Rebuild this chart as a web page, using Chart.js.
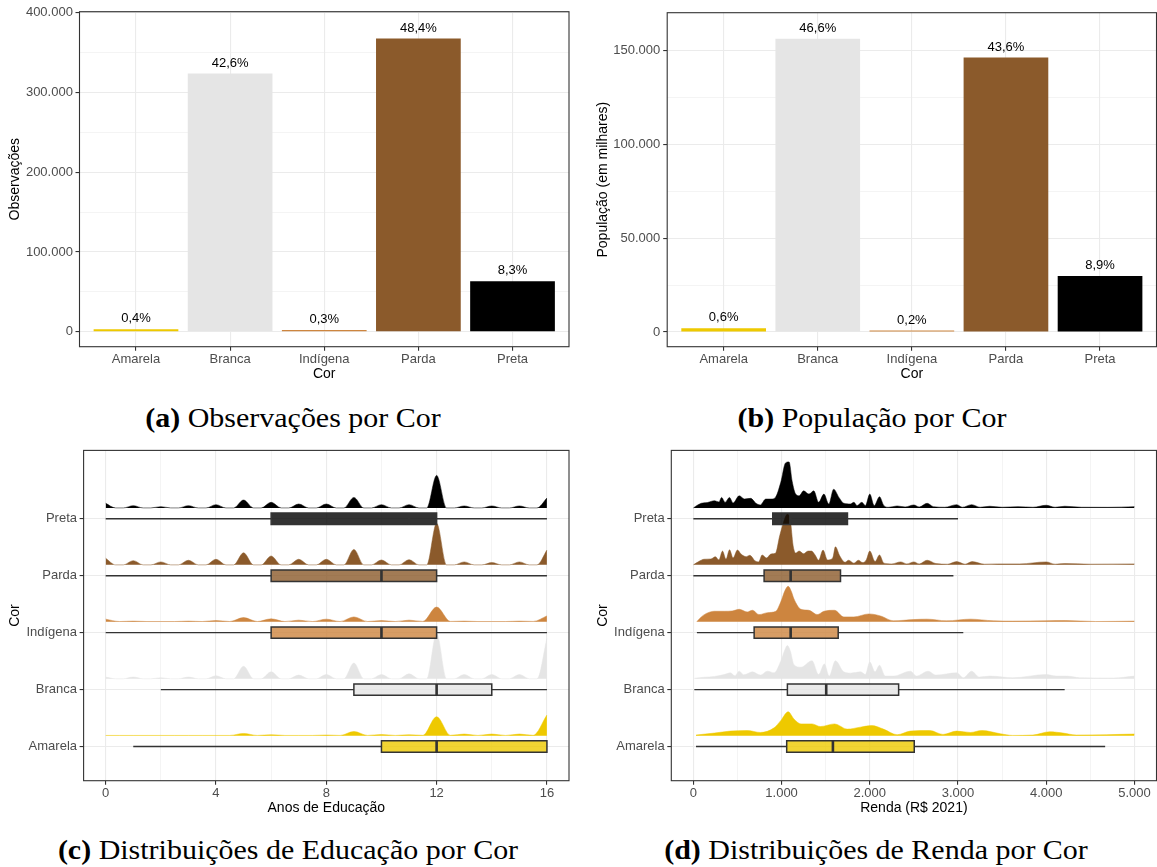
<!DOCTYPE html>
<html>
<head>
<meta charset="utf-8">
<script src="https://cdn.jsdelivr.net/npm/chart.js@4.4.1/dist/chart.umd.min.js"></script>
<style>
  body { margin: 0; background: #fff; width: 1157px; height: 867px; position: relative; overflow: hidden; }
  canvas { position: absolute; }
  .cap { position: absolute; font-family: "Liberation Serif", "Times New Roman", serif; font-size: 27px;
         color: #000; white-space: nowrap; transform: translateX(-50%) scaleX(1.11); line-height: 30px; }
</style>
</head>
<body>
<canvas id="cA" width="580" height="390" style="left:0;top:0"></canvas>
<canvas id="cB" width="577" height="390" style="left:580px;top:0"></canvas>
<canvas id="cC" width="580" height="380" style="left:0;top:440px"></canvas>
<canvas id="cD" width="577" height="380" style="left:580px;top:440px"></canvas>
<div class="cap" style="left:293px;top:403px"><b>(a)</b> Observações por Cor</div>
<div class="cap" style="left:872px;top:403px"><b>(b)</b> População por Cor</div>
<div class="cap" style="left:288px;top:835px"><b>(c)</b> Distribuições de Educação por Cor</div>
<div class="cap" style="left:876px;top:835px"><b>(d)</b> Distribuições de Renda por Cor</div>
<script>
"use strict";

// categorias e cores (ordem do eixo, de baixo para cima nos ridges)
const cores = ['Amarela', 'Branca', 'Indígena', 'Parda', 'Preta'];
const corFill = ['#EEC900', '#E5E5E5', '#CD853F', '#8B5A2B', '#000000'];
const corCaixa = ['rgba(238,201,0,0.8)', 'rgba(229,229,229,0.8)', 'rgba(205,133,63,0.8)',
                  'rgba(139,90,43,0.8)', 'rgba(0,0,0,0.8)'];

// (a) observações
const observacoes = [3000, 323700, 2300, 367600, 63300];
const obsPct = ['0,4%', '42,6%', '0,3%', '48,4%', '8,3%'];
const obsTicks = [0, 100000, 200000, 300000, 400000];
const obsMinor = [50000, 150000, 250000, 350000];

// (b) população (em milhares)
const populacao = [2000, 156300, 800, 146300, 29850];
const popPct = ['0,6%', '46,6%', '0,2%', '43,6%', '8,9%'];
const popTicks = [0, 50000, 100000, 150000];
const popMinor = [25000, 75000, 125000];

// (c) educação: altura dos picos por ano (0..16) e vales entre anos
const anosEdu = [0, 1, 2, 3, 4, 5, 6, 7, 8, 9, 10, 11, 12, 13, 14, 15, 16];
const eduTicks = [0, 4, 8, 12, 16];
const eduMinor = [2, 6, 10, 14];
const eduPicoAmarela = [0.3, 0.3, 0.3, 0.3, 0.3, 2.3, 1, 0.3, 0.7, 4.3, 1.3, 1, 19.3, 1.7, 1.7, 1.7, 21];
const eduPicoBranca = [1.7, 1.7, 1, 1.7, 3, 12.7, 7, 3.7, 4.3, 16, 4.3, 5, 46, 4.3, 4.3, 4.3, 41];
const eduPicoIndigena = [2.7, 0.7, 0.3, 0.7, 1.3, 4.3, 3, 1.7, 2.7, 5, 1.3, 1.7, 15, 0.7, 0.3, 0.7, 6];
const eduPicoParda = [6.7, 4.3, 3, 4.7, 5.7, 12.3, 9, 5.7, 5.7, 15.7, 5, 5.3, 42.3, 3, 2.3, 3, 15];
const eduPicoPreta = [4.7, 2.3, 1.3, 2.3, 3.3, 8, 5.7, 4, 4, 10.7, 3.3, 3.3, 33, 2, 2, 2, 10];
const eduValeSuave = [0.3, 0.3, 0.3, 0.3, 0.3, 0.3, 0.3, 0.3, 0.3, 0.3, 0.3, 0.4, 0.4, 0.3, 0.3, 0.4];
const eduValeZero = [0, 0, 0, 0, 0, 0, 0, 0, 0, 0, 0, 0, 0, 0, 0, 0];
// boxplots: [mín, q1, mediana, q3, máx]
const eduBoxAmarela = [1, 10, 12, 16, 16];
const eduBoxBranca = [2, 9, 12, 14, 16];
const eduBoxIndigena = [0, 6, 10, 12, 16];
const eduBoxParda = [0, 6, 10, 12, 16];
const eduBoxPreta = [0, 6, 11, 12, 16];

// (d) renda: pares [R$, altura]
const rendaTicks = [0, 1000, 2000, 3000, 4000, 5000];
const rendaMinor = [500, 1500, 2500, 3500, 4500];
const rendaDensAmarela = [[30,0.7],[240,2.7],[420,4.7],[610,5.3],[760,3.3],[915,8],[990,15.3],[1075,24.3],[1140,17],
  [1220,12],[1345,12],[1440,9.3],[1600,12],[1745,6.7],[1895,8.7],[2020,10.3],[2155,6.7],[2310,1],[2460,4.7],
  [2680,5.3],[2830,1.3],[2985,4.7],[3140,3.3],[3270,5.3],[3480,2],[3620,0.3],[3850,0.7],[4040,4],[4190,2.7],
  [4340,0.7],[4680,1],[5000,1.7]];
const rendaDensBranca = [[11,0.5],[120,1.5],[240,2.3],[350,4.3],[420,6],[470,3],[520,7.7],[570,4],[610,5],[670,7],
  [760,3.7],[840,7.7],[915,6],[990,17.7],[1040,30],[1065,33.7],[1100,28],[1140,14.3],[1220,11.7],[1345,18.3],
  [1420,4.3],[1485,15],[1540,2.7],[1610,18.3],[1705,7],[1780,5.7],[1895,7],[1950,4.3],[2000,17],[2060,7],
  [2110,13.7],[2175,2.7],[2270,2.7],[2460,7.7],[2530,2.7],[2660,7.7],[2750,3.7],[2985,6],[3060,1],[3155,7.7],
  [3240,1.7],[3360,2.7],[3620,1],[4000,4.3],[4110,2.7],[4230,2.7],[4380,1],[4760,0.7],[5000,2.7]];
const rendaDensIndigena = [[38,0],[90,5],[143,8.3],[240,10.7],[350,10.7],[440,11],[520,12.7],[610,10],[670,11.7],
  [745,7.3],[840,9.3],[935,10.7],[990,20],[1040,32],[1075,36],[1110,31],[1140,23.3],[1220,12.7],[1310,11.7],
  [1405,7.3],[1480,10.7],[1600,11.7],[1705,5],[1820,5],[1990,8],[2120,6],[2270,1],[2500,2.3],[2650,2.7],
  [2870,1],[3140,2.7],[3400,1],[3620,0.7],[3985,1],[4220,1.3],[4560,0.3],[5000,0.7]];
const rendaDensParda = [[0,0],[60,3.3],[120,5.7],[200,6],[250,8.3],[290,5],[330,14],[370,5.7],[410,15.3],[450,7],
  [500,15],[540,11],[600,8.3],[640,9.7],[700,4],[740,3],[780,10],[830,7],[880,11],[930,11.7],[980,30],[1040,48],
  [1065,51.3],[1100,45],[1130,20],[1160,12],[1200,14],[1250,11.3],[1300,14],[1340,14],[1380,10],[1420,4.7],
  [1470,15],[1520,5],[1580,7],[1610,18.3],[1660,9],[1720,2.7],[1760,4.7],[1820,1.7],[1870,4.7],[1920,2.3],
  [1960,5],[2000,14],[2060,3.3],[2110,10],[2160,1.7],[2250,1],[2350,3],[2420,1],[2500,3],[2560,1],[2650,4.7],
  [2750,1.3],[2880,0.7],[2985,3.3],[3080,0.7],[3160,3.3],[3300,0.7],[3450,1],[3700,1],[4000,3],[4100,0.7],
  [4210,1.3],[4500,0.7],[5000,1]];
const rendaDensPreta = [[0,0],[40,2.5],[90,4.7],[160,5.5],[240,7.3],[290,6],[320,10.7],[360,5.7],[410,10.7],[450,5],
  [520,12.3],[580,9],[650,9.7],[710,4.7],[760,3],[820,9],[880,9],[930,10.7],[990,25.7],[1045,45.7],[1085,46.7],
  [1120,27],[1160,14],[1200,12.3],[1250,17.3],[1310,14],[1365,17.3],[1420,5.7],[1480,14],[1535,4],[1590,19],
  [1650,10.7],[1705,4.7],[1780,4],[1820,5.7],[1855,2.3],[1910,5.7],[1950,2.3],[2000,14],[2050,2.3],[2110,11.3],
  [2160,2.3],[2215,0.7],[2310,2],[2400,1],[2500,3],[2560,1],[2650,4.7],[2720,1.3],[2850,0.7],[2985,3.3],
  [3050,0.7],[3155,3.3],[3250,0.7],[3360,1.7],[3500,0.7],[3680,1.3],[3850,0.7],[4000,2.7],[4100,0.7],[4210,1.7],
  [4400,0.7],[4700,0.6],[5000,1.3]];
const rendaBoxAmarela = [30, 1058, 1582, 2504, 4668];
const rendaBoxBranca = [11, 1066, 1506, 2327, 4209];
const rendaBoxIndigena = [40, 689, 1103, 1642, 3060];
const rendaBoxParda = [0, 802, 1103, 1668, 2948];
const rendaBoxPreta = [0, 900, 1100, 1747, 3000];

const FONTE = '"Liberation Sans", Arial, Helvetica, sans-serif';
const ESCALA_DENS = 57.8;   // altura lida -> unidades de linha do ridge
const BASE_DENS = 0.19;     // densidade começa logo acima da caixa
const MEIA_CAIXA = 0.1;

const milhar = v => String(v).replace(/\B(?=(\d{3})+(?!\d))/g, '.');

// eixo linear estilo theme_bw (grade maior + menor, ticks só nos maiores)
function eixo(o) {
  const vertical = o.pos === 'left';
  const todos = o.majors.concat(o.minors || []).sort((a, b) => a - b);
  const maior = c => c.tick && o.majors.includes(c.tick.value);
  return {
    type: 'linear', position: o.pos, min: o.min, max: o.max, offset: false,
    afterBuildTicks: s => { s.ticks = todos.map(v => ({ value: v })); },
    afterFit: s => { if (vertical) s.width = o.size; else s.height = o.size; },
    ticks: {
      autoSkip: false, maxRotation: 0, minRotation: 0, padding: o.tickPad,
      color: '#4D4D4D', font: { size: 13, family: FONTE },
      callback: v => o.majors.includes(v) ? o.fmt(v) : ''
    },
    grid: {
      offset: false, color: '#EBEBEB', drawTicks: true, tickLength: 4, tickWidth: 1.1,
      lineWidth: c => maior(c) ? 1.1 : 0.55,
      tickColor: c => maior(c) ? '#333333' : 'rgba(0,0,0,0)'
    },
    border: { display: false },
    title: {
      display: true, text: o.title, color: '#000', font: { size: 14, family: FONTE },
      padding: vertical ? { top: o.titlePad, bottom: 0 } : { top: 0, bottom: o.titlePad }
    }
  };
}

const moldura = {
  id: 'moldura',
  afterDatasetsDraw(chart) {
    const { ctx, chartArea: a } = chart;
    ctx.save();
    ctx.strokeStyle = '#333333';
    ctx.lineWidth = 1.1;
    ctx.strokeRect(a.left, a.top, a.right - a.left, a.bottom - a.top);
    ctx.restore();
  }
};

const rotulosBarras = {
  id: 'rotulosBarras',
  afterDatasetsDraw(chart, args, opts) {
    const { ctx } = chart;
    ctx.save();
    ctx.font = '13px ' + FONTE;
    ctx.fillStyle = '#000';
    ctx.textAlign = 'center';
    ctx.textBaseline = 'middle';
    chart.getDatasetMeta(0).data.forEach((bar, i) => ctx.fillText(opts.textos[i], bar.x, bar.y - 10.5));
    ctx.restore();
  }
};

const comum = { responsive: false, animation: false, events: [],
  plugins: { legend: { display: false }, tooltip: { enabled: false } } };

function graficoBarras(id, valores, pct, yMaj, yMin, lim, titulo, lay) {
  new Chart(document.getElementById(id), {
    type: 'bar',
    data: { datasets: [{
      data: valores.map((v, i) => ({ x: i, y: v })),
      backgroundColor: corFill, borderWidth: 0,
      barPercentage: 0.9, categoryPercentage: 1
    }] },
    options: Object.assign({}, comum, {
      layout: { padding: { top: lay.top, right: lay.right, left: 0, bottom: 0 } },
      plugins: Object.assign({}, comum.plugins, { rotulosBarras: { textos: pct } }),
      scales: {
        x: eixo({ pos: 'bottom', min: -0.6, max: 4.6, majors: [0, 1, 2, 3, 4], fmt: v => cores[v],
                  size: 43.3, tickPad: 1, title: 'Cor', titlePad: 7.6 }),
        y: eixo({ pos: 'left', min: lim[0], max: lim[1], majors: yMaj, minors: yMin, fmt: milhar,
                  size: lay.left, tickPad: lay.tickPad, title: titulo, titlePad: lay.titlePad })
      }
    }),
    plugins: [moldura, rotulosBarras]
  });
}

graficoBarras('cA', observacoes, obsPct, obsTicks, obsMinor, [-18750, 401250], 'Observações',
  { top: 11.7, right: 11, left: 79.5, tickPad: 2.6, titlePad: 7.1 });
graficoBarras('cB', populacao, popPct, popTicks, popMinor, [-7840, 170250], 'População (em milhares)',
  { top: 12.7, right: 0.5, left: 87.2, tickPad: 3, titlePad: 14.6 });

function pontosEdu(picos, vales, meia) {
  const pts = [];
  picos.forEach((h, k) => {
    pts.push([anosEdu[k], h]);
    if (k < picos.length - 1) {
      if (meia < 0.5) pts.push([anosEdu[k] + meia, vales[k]], [anosEdu[k + 1] - meia, vales[k]]);
      else pts.push([anosEdu[k] + 0.5, vales[k]]);
    }
  });
  return pts;
}

function ridgeDatasets(densidades, caixas) {
  const ds = [];
  cores.forEach((nome, i) => {
    const cat = i + 1, base = cat + BASE_DENS;
    ds.push({ data: densidades[i].map(([x, h]) => ({ x, y: base + h / ESCALA_DENS })),
      fill: { value: base }, backgroundColor: corFill[i], borderColor: corFill[i], borderWidth: 0.5,
      cubicInterpolationMode: 'monotone' });
    const [mn, q1, md, q3, mx] = caixas[i];
    ds.push({ data: [{ x: mn, y: cat }, { x: q1, y: cat }, { x: md, y: null }, { x: q3, y: cat }, { x: mx, y: cat }],
      borderColor: '#333333', borderWidth: 1.4 });
    ds.push({ data: [{ x: q1, y: cat + MEIA_CAIXA }, { x: q3, y: cat + MEIA_CAIXA }],
      fill: { value: cat - MEIA_CAIXA }, backgroundColor: corCaixa[i], borderWidth: 0 });
    ds.push({ data: [{ x: q1, y: cat - MEIA_CAIXA }, { x: q1, y: cat + MEIA_CAIXA }, { x: q3, y: cat + MEIA_CAIXA },
      { x: q3, y: cat - MEIA_CAIXA }, { x: q1, y: cat - MEIA_CAIXA }],
      borderColor: '#333333', borderWidth: 1.5, borderJoinStyle: 'miter', borderCapStyle: 'square' });
    ds.push({ data: [{ x: md, y: cat - MEIA_CAIXA }, { x: md, y: cat + MEIA_CAIXA }],
      borderColor: '#333333', borderWidth: 2.6 });
  });
  ds.forEach((d, k) => {
    d.order = ds.length - k;   // desenha na ordem da lista
    d.showLine = true;
    d.pointRadius = 0;
    if (!d.cubicInterpolationMode) d.tension = 0;
    if (d.fill === undefined) d.fill = false;
  });
  return ds;
}

function graficoRidge(id, densidades, caixas, xo, lay) {
  new Chart(document.getElementById(id), {
    type: 'scatter',
    data: { datasets: ridgeDatasets(densidades, caixas) },
    options: Object.assign({}, comum, {
      layout: { padding: { top: 5.3, right: lay.right, left: 0, bottom: 0 } },
      scales: {
        x: eixo(Object.assign({ pos: 'bottom', size: 39.3, tickPad: 0.5, titlePad: 3.3 }, xo)),
        y: eixo({ pos: 'left', min: 0.4, max: 6.2, majors: [1, 2, 3, 4, 5], fmt: v => cores[v - 1],
                  size: lay.left, tickPad: lay.tickPad, title: 'Cor', titlePad: lay.titlePad })
      }
    }),
    plugins: [moldura]
  });
}

graficoRidge('cC',
  [pontosEdu(eduPicoAmarela, eduValeSuave, 0.5), pontosEdu(eduPicoBranca, eduValeZero, 0.36),
   pontosEdu(eduPicoIndigena, eduValeSuave, 0.5), pontosEdu(eduPicoParda, eduValeZero, 0.36),
   pontosEdu(eduPicoPreta, eduValeZero, 0.36)],
  [eduBoxAmarela, eduBoxBranca, eduBoxIndigena, eduBoxParda, eduBoxPreta],
  { min: -0.8, max: 16.8, majors: eduTicks, minors: eduMinor, fmt: v => String(v), title: 'Anos de Educação' },
  { right: 11, left: 83.6, tickPad: 2.6, titlePad: 6.4 });

graficoRidge('cD',
  [rendaDensAmarela, rendaDensBranca, rendaDensIndigena, rendaDensParda, rendaDensPreta],
  [rendaBoxAmarela, rendaBoxBranca, rendaBoxIndigena, rendaBoxParda, rendaBoxPreta],
  { min: -250, max: 5250, majors: rendaTicks, minors: rendaMinor, fmt: milhar, title: 'Renda (R$ 2021)' },
  { right: 0.5, left: 91.3, tickPad: 2.6, titlePad: 14.4 });
</script>
</body>
</html>
